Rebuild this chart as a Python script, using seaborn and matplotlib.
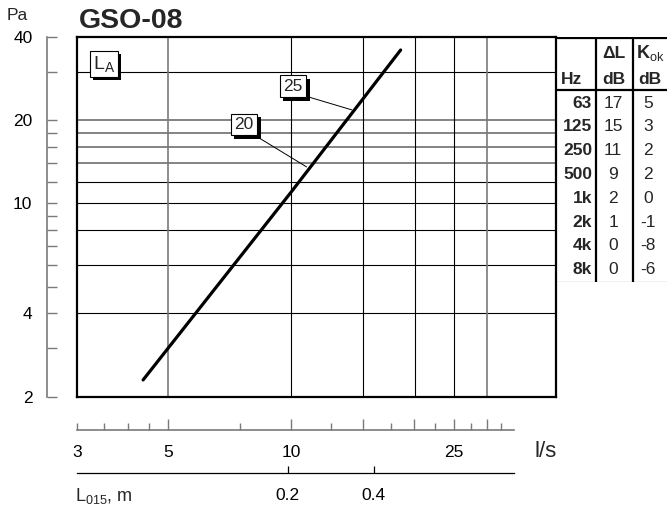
import numpy as np
import pandas as pd
import matplotlib
matplotlib.use("Agg")
import matplotlib.pyplot as plt
import matplotlib.ticker as mticker
import matplotlib.patheffects as pe
import seaborn as sns

# ---------------- data ----------------
flow = [4.35, 10.0, 18.5]          # l/s
pressure = [2.3, 11.0, 35.9]        # Pa

noise_levels = ["20", "25"]
noise_targets_x = [10.9, 14.06]
noise_targets_y = [13.56, 21.8]
noise_label_x = [7.67, 10.1]
noise_label_y = [19.3, 26.5]

y_ticks = [2, 3, 4, 5, 6, 7, 8, 9, 10, 12, 14, 16, 18, 20, 30, 40]
y_labels = {2: "2", 4: "4", 10: "10", 20: "20", 40: "40"}
y_grid_black = [4, 6, 8, 10, 12, 30]
y_grid_grey = [14, 16, 18, 20]
x_grid_black = [10, 15, 20, 25]
x_grid_grey = [5, 30]

x_major = [5, 10, 15, 20, 25, 30]
x_major_labels = ["5", "10", "", "", "25", ""]
x_minor = [3, 3.5, 4, 4.5, 7.5, 12.5, 17.5, 22.5, 27.5, 32.5]

l015_flow = [9.8, 15.9]
l015_labels = ["0.2", "0.4"]

table_hz = ["63", "125", "250", "500", "1k", "2k", "4k", "8k"]
table_dl = ["17", "15", "11", "9", "2", "1", "0", "0"]
table_kok = ["5", "3", "2", "2", "0", "-1", "-8", "-6"]

# ---------------- style ----------------
sns.set_theme(style="white")
plt.rcParams['font.family'] = ['Liberation Sans', 'DejaVu Sans']
plt.rcParams['mathtext.fontset'] = 'custom'
plt.rcParams['mathtext.rm'] = 'Liberation Sans'
plt.rcParams['mathtext.bf'] = 'Liberation Sans:bold'
plt.rcParams['mathtext.it'] = 'Liberation Sans:italic'

W, H = 667, 511
fig = plt.figure(figsize=(W / 100, H / 100), dpi=100)
fig.patch.set_facecolor("white")

def rect(x0, y0, x1, y1):
    return [x0 / W, 1 - y1 / H, (x1 - x0) / W, (y1 - y0) / H]

XMIN, XMAX = 3, 44.3
YMIN, YMAX = 2, 40
TFS = 12.5  # tick font size

# ---------------- main axes ----------------
ax = fig.add_axes(rect(77, 37, 556, 396.7))
ax.set_xscale("log")
ax.set_yscale("log")
ax.set_xlim(XMIN, XMAX)
ax.set_ylim(YMIN, YMAX)
for v in y_grid_black:
    ax.axhline(v, color="black", lw=0.8, zorder=1)
for v in y_grid_grey:
    ax.axhline(v, color="#7a7a7a", lw=1.3, zorder=1)
for v in x_grid_black:
    ax.axvline(v, color="black", lw=0.8, zorder=1)
for v in x_grid_grey:
    ax.axvline(v, color="#7a7a7a", lw=1.2, zorder=1)

df = pd.DataFrame({"flow": flow, "pressure": pressure})
sns.lineplot(data=df, x="flow", y="pressure", ax=ax, color="black", lw=2.3, zorder=5)
ax.set_xlim(XMIN, XMAX)
ax.set_ylim(YMIN, YMAX)
ax.set_xlabel("")
ax.set_ylabel("")
ax.set_xticks([])
ax.set_xticks([], minor=True)
ax.set_yticks([])
ax.set_yticks([], minor=True)
for s in ax.spines.values():
    s.set_color("black")
    s.set_linewidth(1.6)
    s.set_visible(True)

shadow = [pe.withSimplePatchShadow(offset=(2.5, -2.5), shadow_rgbFace="black", alpha=1.0)]

def boxed(t):
    bp = t.get_bbox_patch()
    bp.set_path_effects(shadow)

for lab, tx, ty, lx, ly in zip(noise_levels, noise_targets_x, noise_targets_y,
                               noise_label_x, noise_label_y):
    t = ax.annotate(lab, xy=(tx, ty), xytext=(lx, ly), fontsize=TFS,
                    ha="center", va="center", zorder=6,
                    bbox=dict(boxstyle="square,pad=0.2", fc="white", ec="black", lw=0.8),
                    arrowprops=dict(arrowstyle="-", lw=0.7, color="black",
                                    shrinkA=0, shrinkB=0, relpos=(0.78, 0.0)))
    boxed(t)

t = ax.text(3.49, 32, r"L$_\mathrm{A}$", fontsize=14, ha="center", va="center", zorder=6,
            bbox=dict(boxstyle="square,pad=0.15", fc="white", ec="black", lw=0.8))
boxed(t)

# ---------------- left pressure axis ----------------
ay = fig.add_axes(rect(47, 37, 57, 396.7))
ay.set_facecolor("none")
ay.set_yscale("log")
ay.set_ylim(YMIN, YMAX)
ay.set_xticks([])
ay.yaxis.set_major_locator(mticker.FixedLocator(y_ticks))
ay.yaxis.set_major_formatter(mticker.FixedFormatter([y_labels.get(v, "") for v in y_ticks]))
ay.yaxis.set_minor_locator(mticker.NullLocator())
ay.tick_params(axis="y", which="major", direction="in", length=7.5, width=1,
               color="#7a7a7a", pad=10.5, labelsize=TFS, labelcolor="black", left=True)
for k, s in ay.spines.items():
    s.set_visible(k == "left")
ay.spines["left"].set_color("#7a7a7a")
ay.spines["left"].set_linewidth(1.2)

# ---------------- bottom flow axis ----------------
ab = fig.add_axes(rect(77, 420, 514, 430))
ab.set_facecolor("none")
ab.set_xscale("log")
ab.set_xlim(3, 35)
ab.set_yticks([])
ab.xaxis.set_major_locator(mticker.FixedLocator(x_major))
ab.xaxis.set_major_formatter(mticker.FixedFormatter(x_major_labels))
ab.xaxis.set_minor_locator(mticker.FixedLocator(x_minor))
ab.xaxis.set_minor_formatter(mticker.FuncFormatter(lambda v, p: "3" if abs(v - 3) < 1e-6 else ""))
ab.tick_params(axis="x", which="major", direction="in", length=8, width=1, bottom=True,
               color="#7a7a7a", pad=11, labelsize=TFS, labelcolor="black")
ab.tick_params(axis="x", which="minor", direction="in", length=5, width=1, bottom=True,
               color="#7a7a7a", pad=11, labelsize=TFS, labelcolor="black")
for k, s in ab.spines.items():
    s.set_visible(k == "bottom")
ab.spines["bottom"].set_color("#7a7a7a")
ab.spines["bottom"].set_linewidth(1.2)

# ---------------- L015 axis ----------------
al = fig.add_axes(rect(77, 463, 514, 473))
al.set_facecolor("none")
al.set_xscale("log")
al.set_xlim(3, 35)
al.set_yticks([])
al.xaxis.set_major_locator(mticker.FixedLocator(l015_flow))
al.xaxis.set_major_formatter(mticker.FixedFormatter(l015_labels))
al.xaxis.set_minor_locator(mticker.NullLocator())
al.tick_params(axis="x", which="major", direction="in", length=5, width=0.9, bottom=True,
               color="black", pad=11, labelsize=TFS, labelcolor="black")
for k, s in al.spines.items():
    s.set_visible(k == "bottom")
al.spines["bottom"].set_color("black")
al.spines["bottom"].set_linewidth(0.9)

# ---------------- texts ----------------
fig.text(79 / W, 1 - 21 / H, "GSO-08", fontsize=20.5, fontweight="bold", ha="left", va="center")
fig.text(7 / W, 1 - 16 / H, "Pa", fontsize=TFS, ha="left", va="center")
fig.text(535 / W, 1 - 451 / H, "l/s", fontsize=16, ha="left", va="center")
fig.text(75 / W, 1 - 496 / H, r"L$_{015}$, m", fontsize=13, ha="left", va="center")

# ---------------- table ----------------
at = fig.add_axes(rect(556, 37, 667, 282))
at.set_xlim(0, 111)
at.set_ylim(245, 0)
at.axis("off")
tw = 1.6
at.plot([0, 111], [0.8, 0.8], color="black", lw=tw, solid_capstyle="butt")
at.plot([0, 111], [53, 53], color="black", lw=tw, solid_capstyle="butt")
at.plot([0, 111], [244.5, 244.5], color="black", lw=0.8, solid_capstyle="butt")
for xv in (40, 77):
    at.plot([xv, xv], [0, 245], color="black", lw=tw, solid_capstyle="butt")

fs = 12.5
at.text(58, 16, "ΔL", fontsize=fs, fontweight="bold", ha="center", va="center")
at.text(94, 16, r"$\mathbf{K}_{\mathrm{ok}}$", fontsize=fs + 0.5, ha="center", va="center")
at.text(5, 43, "Hz", fontsize=fs, fontweight="bold", ha="left", va="center")
at.text(58, 43, "dB", fontsize=fs, fontweight="bold", ha="center", va="center")
at.text(94, 43, "dB", fontsize=fs, fontweight="bold", ha="center", va="center")
for i, (hz, dl, kk) in enumerate(zip(table_hz, table_dl, table_kok)):
    yy = 66 + 23.8 * i
    at.text(36, yy, hz, fontsize=fs, fontweight="bold", ha="right", va="center")
    at.text(57, yy, dl, fontsize=fs, ha="center", va="center")
    at.text(92, yy, kk, fontsize=fs, ha="center", va="center")

fig.savefig("out.png", dpi=100)
